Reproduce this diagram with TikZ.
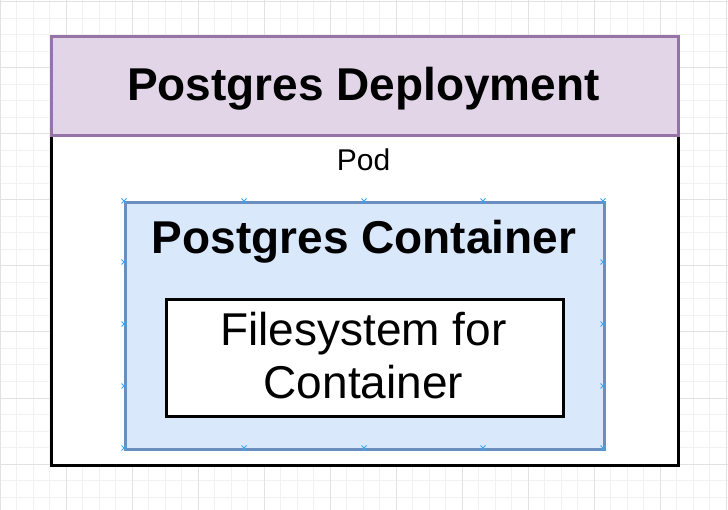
\documentclass[tikz,border=0pt]{standalone}
\usepackage{fontspec}
\setmainfont{Liberation Sans}
\usetikzlibrary{positioning}

\definecolor{deployfill}{HTML}{E1D5E7}
\definecolor{deploydraw}{HTML}{9673A6}
\definecolor{contfill}{HTML}{DAE8FC}
\definecolor{contdraw}{HTML}{6C8EBF}
\definecolor{gridminor}{HTML}{F1F1F1}
\definecolor{gridmajor}{HTML}{E2E2E2}
\definecolor{pointblue}{HTML}{3AA6F0}

\newcommand{\bigbold}{\fontsize{46}{53}\selectfont\bfseries}
\newcommand{\bigtext}{\fontsize{46}{53}\selectfont}

\begin{document}
\begin{tikzpicture}[x=1pt, y=-1pt, line width=3pt,
  box/.style = {draw, rectangle, inner sep=0pt, anchor=north west},
  label/.style = {anchor=base, inner sep=0pt},
  gridline/.style = {draw=gridminor, line width=1pt},
  cpoint/.style = {draw=pointblue, line width=0.9pt}]
\useasboundingbox (0,0) rectangle (728,510);

% background grid
\foreach \k in {0,...,44} {
  \draw[gridline] (\k*16.5,0) -- (\k*16.5,510);
}
\foreach \k in {0,...,30} {
  \draw[gridline] (0,2+\k*16.5) -- (728,2+\k*16.5);
}
\foreach \k in {0,...,11} {
  \draw[gridline, draw=gridmajor] (\k*66,0) -- (\k*66,510);
}
\foreach \k in {0,...,7} {
  \draw[gridline, draw=gridmajor] (0,2+\k*66) -- (728,2+\k*66);
}

% boxes
\node[box, fill=white, minimum width=627, minimum height=330] (pod) at (50,134) {};
\node[box, fill=deployfill, draw=deploydraw, minimum width=627, minimum height=99] (deploy) at (50,35) {};
\node[box, fill=contfill, draw=contdraw, minimum width=479, minimum height=247] (container) at (124,201) {};
\node[box, fill=white, minimum width=397, minimum height=117] (fs) at (165,298) {};

% texts
\node[label] (deploytext) at (363.5,101) {\bigbold Postgres Deployment};
\node[label] (podtext) at (363.5,171) {\fontsize{30}{36}\selectfont Pod};
\node[label] (conttext) at (364,254) {\bigbold Postgres Container};
\node[label] (fstext1) at (363.5,345) {\bigtext Filesystem for};
\node[label] (fstext2) at (363.5,398) {\bigtext Container};

% connection points
\foreach \px in {124,244,364,483,603} {
  \foreach \py in {201,448} {
    \draw[cpoint] (\px-2.5,\py-2.5) -- (\px+2.5,\py+2.5) (\px-2.5,\py+2.5) -- (\px+2.5,\py-2.5);
  }
}
\foreach \px in {124,603} {
  \foreach \py in {262,324,386} {
    \draw[cpoint] (\px-2.5,\py-2.5) -- (\px+2.5,\py+2.5) (\px-2.5,\py+2.5) -- (\px+2.5,\py-2.5);
  }
}
\end{tikzpicture}
\end{document}
